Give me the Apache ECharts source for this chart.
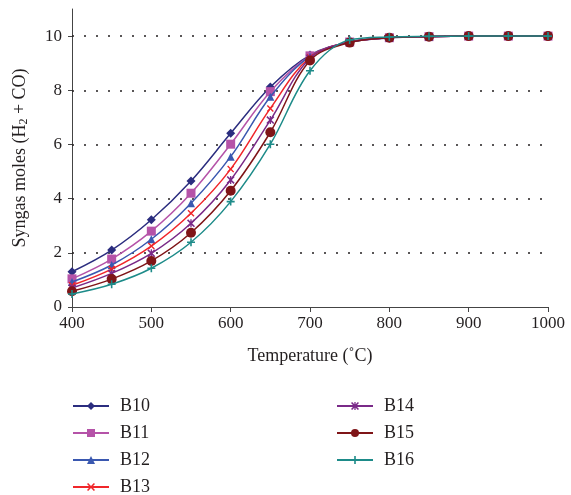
<!DOCTYPE html>
<html><head><meta charset="utf-8">
<script src="https://cdn.jsdelivr.net/npm/echarts@6/dist/echarts.min.js"></script>
<style>html,body{margin:0;padding:0;background:#fff}#c{width:571px;height:495px}</style>
</head><body><div id="c"></div>
<script>
const temps = [400,450,500,550,600,650,700,750,800,850,900,950,1000];
const B10 = [1.30,2.10,3.22,4.65,6.41,8.12,9.30,9.78,9.93,9.98,10,10,10];
const B11 = [1.04,1.77,2.80,4.20,6.01,7.95,9.27,9.78,9.94,9.98,10,10,10];
const B12 = [0.92,1.55,2.50,3.83,5.55,7.76,9.25,9.78,9.94,9.98,10,10,10];
const B13 = [0.80,1.40,2.25,3.46,5.09,7.33,9.22,9.78,9.94,9.98,10,10,10];
const B14 = [0.70,1.24,1.98,3.09,4.69,6.90,9.18,9.78,9.94,9.98,10,10,10];
const B15 = [0.58,1.03,1.70,2.74,4.29,6.45,9.10,9.76,9.94,9.98,10,10,10];
const B16 = [0.48,0.84,1.43,2.39,3.89,6.01,8.72,9.86,9.97,9.99,10,10,10];
const yTicks = [0,2,4,6,8,10];
const gridValues = [2,4,6,8,10];

const X_PATH = 'path://M0,1.4L1.4,0L5,3.6L8.6,0L10,1.4L6.4,5L10,8.6L8.6,10L5,6.4L1.4,10L0,8.6L3.6,5Z';
const STAR_PATH = 'path://M0,1.4L1.4,0L5,3.6L8.6,0L10,1.4L6.4,5L10,8.6L8.6,10L5,6.4L1.4,10L0,8.6L3.6,5Z M4.2,0H5.8V10H4.2Z';
const PLUS_PATH = 'path://M4,0H6V4H10V6H6V10H4V6H0V4H4Z';

const defs = [
  {name:'B10', data:B10, color:'#2b2d7f', symbol:'diamond', size:9},
  {name:'B11', data:B11, color:'#b553a8', symbol:'rect', size:9},
  {name:'B12', data:B12, color:'#3a58b0', symbol:'triangle', size:8},
  {name:'B13', data:B13, color:'#f0262a', symbol:X_PATH, size:7},
  {name:'B14', data:B14, color:'#7a2a88', symbol:STAR_PATH, size:8},
  {name:'B15', data:B15, color:'#7f1518', symbol:'circle', size:10},
  {name:'B16', data:B16, color:'#1d8b89', symbol:PLUS_PATH, size:8}
];
const FONT = 'Liberation Serif';
const TXT = '#231f20';

const series = defs.map((d,i)=>{
  const s = {
    name:d.name, type:'line', smooth:0.35,
    data: temps.map((t,k)=>[t,d.data[k]]),
    symbol:d.symbol, symbolSize:d.size, showAllSymbol:true,
    lineStyle:{color:d.color,width:1.5},
    itemStyle:{color:d.color},
    emphasis:{disabled:true},
    z: 10 + i
  };
  if(i===0){
    s.markLine = {
      silent:true, symbol:'none', label:{show:false},
      lineStyle:{color:'#231f20', type:[2,10], width:1.5},
      data: gridValues.map(v=>({yAxis:v})),
      z:1
    };
  }
  return s;
});

const legendText = {fontFamily:FONT, fontSize:18, color:TXT, lineHeight:18, padding:[0,0,0,6]};
const chart = echarts.init(document.getElementById('c'), null, {renderer:'canvas'});
chart.setOption({
  animation:false,
  backgroundColor:'#fff',
  textStyle:{fontFamily:FONT},
  grid:{left:72, right:23, top:9, bottom:188},
  xAxis:{
    type:'value', min:400, max:1000, interval:100,
    name:'Temperature (\u02daC)', nameLocation:'middle', nameGap:40,
    nameTextStyle:{fontFamily:FONT, fontSize:18, color:TXT},
    axisLine:{lineStyle:{color:'#444', width:1}},
    axisTick:{show:true, length:5, inside:false, lineStyle:{color:'#444'}},
    axisLabel:{fontFamily:FONT, fontSize:17, color:TXT, margin:8, formatter:v=>String(v)},
    splitLine:{show:false}
  },
  yAxis:{
    type:'value', min:0, max:11,
    name:'Syngas moles (H{sub|2} + CO)', nameLocation:'middle', nameGap:42,
    nameTextStyle:{fontFamily:FONT, fontSize:18, color:TXT,
      rich:{sub:{fontFamily:FONT, fontSize:12, color:TXT, verticalAlign:'bottom', padding:[8,0,0,0]}}},
    axisLine:{show:true, lineStyle:{color:'#444', width:1}},
    axisTick:{show:true, length:4, customValues:yTicks, lineStyle:{color:'#444'}},
    axisLabel:{fontFamily:FONT, fontSize:17, color:TXT, margin:10, customValues:yTicks},
    splitLine:{show:false}
  },
  legend:[
    {data:['B10','B11','B12','B13'], orient:'vertical', left:67, top:392, height:140, itemWidth:36, itemHeight:10, itemGap:9,
     textStyle:legendText},
    {data:['B14','B15','B16'], orient:'vertical', left:331, top:392, height:140, itemWidth:36, itemHeight:10, itemGap:9,
     textStyle:legendText}
  ],
  series:series
});
</script></body></html>
